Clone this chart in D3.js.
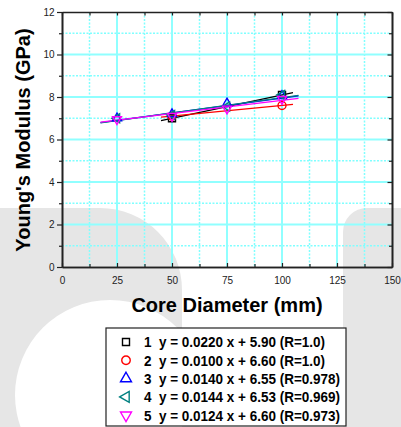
<!DOCTYPE html>
<html>
<head>
<meta charset="utf-8">
<script src="https://cdn.jsdelivr.net/npm/d3@7"></script>
<style>
  html, body { margin: 0; padding: 0; background: #fff; }
  svg { display: block; font-family: Arial, "Liberation Sans", sans-serif; }
</style>
</head>
<body>
<svg id="chart" width="401" height="427"></svg>
<script>
// measured diameters (mm) per series
const x12 = [50, 100];
const x345 = [25, 50, 75, 100];

// Young's modulus (GPa)
const s1 = [7.0, 8.1];
const s2 = [7.1, 7.6];
const s3 = [7.0, 7.2, 7.7, 8.05];
const s4 = [7.0, 7.15, 7.55, 8.1];
const s5 = [6.95, 7.1, 7.45, 7.9];

// linear fits from the legend
const slopes = [0.0220, 0.0100, 0.0140, 0.0144, 0.0124];
const intercepts = [5.90, 6.60, 6.55, 6.53, 6.60];
const rLabels = ['1.0', '1.0', '0.978', '0.969', '0.973'];
const fitFrom = [45, 45, 17.5, 17.5, 17.5];
const fitTo = [105, 105, 107.5, 107.5, 107.5];

const xTicks = [0, 25, 50, 75, 100, 125, 150];
const yTicks = [0, 2, 4, 6, 8, 10, 12];

const colors = ['#000000', '#ff0000', '#0000ff', '#008080', '#ff00ff'];
const shapes = ['square', 'circle', 'up', 'left', 'down'];

const series = [
  { xs: x12, ys: s1 },
  { xs: x12, ys: s2 },
  { xs: x345, ys: s3 },
  { xs: x345, ys: s4 },
  { xs: x345, ys: s5 }
];

const svg = d3.select('#chart');

// plot frame
const L = 62, R = 392, T = 12, B = 267;
const x = d3.scaleLinear().domain([0, 150]).range([L, R]);
const y = d3.scaleLinear().domain([0, 12]).range([B, T]);

// background watermark
const bg = svg.append('g');
const wmPath = d3.path();
wmPath.moveTo(0, 208);
wmPath.lineTo(100, 208);
wmPath.arcTo(182, 208, 182, 290, 82);
wmPath.lineTo(182, 427);
wmPath.lineTo(0, 427);
wmPath.closePath();
// inner hole of the "C"
wmPath.moveTo(205, 395);
wmPath.arc(110, 395, 95, 0, Math.PI * 2, true);
bg.append('path').attr('d', wmPath.toString()).attr('fill', '#e6e6e6').attr('fill-rule', 'evenodd');
bg.append('rect').attr('x', 343).attr('y', 208).attr('width', 90).attr('height', 240)
  .attr('rx', 24).attr('fill', '#e6e6e6');

// grid
const grid = svg.append('g');
const xMinor = d3.range(12.5, 150, 25);
const yMinor = d3.range(1, 12, 2);
grid.selectAll('.vminor').data(xMinor).join('line')
  .attr('x1', d => x(d)).attr('x2', d => x(d)).attr('y1', T).attr('y2', B)
  .attr('stroke', '#80ffff').attr('stroke-width', 1.5).attr('stroke-dasharray', '2,1.5');
grid.selectAll('.hminor').data(yMinor).join('line')
  .attr('y1', d => y(d)).attr('y2', d => y(d)).attr('x1', L).attr('x2', R)
  .attr('stroke', '#80ffff').attr('stroke-width', 1.5).attr('stroke-dasharray', '2,1.5');
grid.selectAll('.vmajor').data(xTicks.slice(1, -1)).join('line')
  .attr('x1', d => x(d)).attr('x2', d => x(d)).attr('y1', T).attr('y2', B)
  .attr('stroke', '#90ffff').attr('stroke-width', 2);
grid.selectAll('.hmajor').data(yTicks.slice(1, -1)).join('line')
  .attr('y1', d => y(d)).attr('y2', d => y(d)).attr('x1', L).attr('x2', R)
  .attr('stroke', '#90ffff').attr('stroke-width', 2);

// axes
const axisColor = '#222';
function styleAxis(g) {
  g.selectAll('.domain').attr('stroke', axisColor).attr('stroke-width', 1.6);
  g.selectAll('.tick line').attr('stroke', axisColor).attr('stroke-width', 1.2);
  g.selectAll('.tick text').attr('fill', '#222').attr('font-size', 10);
}

// left: labels, outward ticks
svg.append('g').attr('transform', `translate(${L},0)`)
  .call(d3.axisLeft(y).tickValues(yMinor).tickSize(3).tickFormat('').tickSizeOuter(0))
  .call(styleAxis);
svg.append('g').attr('transform', `translate(${L},0)`)
  .call(d3.axisLeft(y).tickValues(yTicks).tickSize(5).tickPadding(2.5).tickSizeOuter(0))
  .call(styleAxis);

// bottom: labels, inward ticks
svg.append('g').attr('transform', `translate(0,${B})`)
  .call(d3.axisBottom(x).tickValues(xMinor).tickSize(-3).tickFormat('').tickSizeOuter(0))
  .call(styleAxis);
svg.append('g').attr('transform', `translate(0,${B})`)
  .call(d3.axisBottom(x).tickValues(xTicks).tickSize(-4).tickPadding(10).tickSizeOuter(0))
  .call(styleAxis)
  .call(g => g.selectAll('.tick text').attr('dy', '0.71em').attr('y', 10));

// top and right: no labels, inward ticks
svg.append('g').attr('transform', `translate(0,${T})`)
  .call(d3.axisTop(x).tickValues(d3.range(0, 151, 12.5)).tickSize(-3.5).tickFormat('').tickSizeOuter(0))
  .call(styleAxis);
svg.append('g').attr('transform', `translate(${R},0)`)
  .call(d3.axisRight(y).tickValues(yMinor).tickSize(-3).tickFormat('').tickSizeOuter(0))
  .call(styleAxis);
svg.append('g').attr('transform', `translate(${R},0)`)
  .call(d3.axisRight(y).tickValues(yTicks).tickSize(-4.5).tickFormat('').tickSizeOuter(0))
  .call(styleAxis);

// axis titles
svg.append('text')
  .attr('transform', 'translate(30,140) rotate(-90)')
  .attr('text-anchor', 'middle').attr('font-size', 20).attr('font-weight', 'bold')
  .text("Young's Modulus (GPa)");
svg.append('text')
  .attr('x', 227).attr('y', 312)
  .attr('text-anchor', 'middle').attr('font-size', 20).attr('font-weight', 'bold')
  .text('Core Diameter (mm)');

// marker path generator
function marker(shape, s) {
  const h = s * Math.sqrt(3) / 2;
  switch (shape) {
    case 'square':
      return `M${-s / 2},${-s / 2}h${s}v${s}h${-s}Z`;
    case 'circle':
      return d3.symbol(d3.symbolCircle, Math.PI * (s / 2) * (s / 2))();
    case 'up':
      return `M0,${-h * 2 / 3}L${s / 2},${h / 3}L${-s / 2},${h / 3}Z`;
    case 'down':
      return `M0,${h * 2 / 3}L${s / 2},${-h / 3}L${-s / 2},${-h / 3}Z`;
    case 'left':
      return `M${-h * 2 / 3},0L${h / 3},${-s / 2}L${h / 3},${s / 2}Z`;
  }
}
const plotSize = { square: 7, circle: 8, up: 9, down: 9, left: 9 };

// fit lines
const lines = svg.append('g');
slopes.forEach((m, i) => {
  lines.append('line')
    .attr('x1', x(fitFrom[i])).attr('y1', y(m * fitFrom[i] + intercepts[i]))
    .attr('x2', x(fitTo[i])).attr('y2', y(m * fitTo[i] + intercepts[i]))
    .attr('stroke', colors[i]).attr('stroke-width', 1.3);
});

// data points
const pts = svg.append('g');
series.forEach((s, i) => {
  pts.selectAll(null).data(s.ys).join('path')
    .attr('transform', (d, j) => `translate(${x(s.xs[j])},${y(d)})`)
    .attr('d', marker(shapes[i], plotSize[shapes[i]]))
    .attr('fill', 'none').attr('stroke', colors[i]).attr('stroke-width', 1.4);
});

// legend
const lg = svg.append('g');
lg.append('rect').attr('x', 106).attr('y', 328).attr('width', 240).attr('height', 98)
  .attr('fill', '#fff').attr('stroke', '#222').attr('stroke-width', 1.2);
const legendSize = { square: 7, circle: 8.5, up: 11, down: 11, left: 11 };
slopes.forEach((m, i) => {
  const base = 347.3 + i * 18.3;
  lg.append('path')
    .attr('transform', `translate(126,${base - 5.3})`)
    .attr('d', marker(shapes[i], legendSize[shapes[i]]))
    .attr('fill', 'none').attr('stroke', colors[i]).attr('stroke-width', 1.4);
  lg.append('text')
    .attr('transform', `translate(144,${base}) scale(0.9,1)`)
    .attr('font-size', 15).attr('font-weight', 'bold')
    .text(i + 1);
  lg.append('text')
    .attr('transform', `translate(159,${base}) scale(0.9,1)`)
    .attr('font-size', 15).attr('font-weight', 'bold')
    .text(`y = ${m.toFixed(4)} x + ${intercepts[i].toFixed(2)} (R=${rLabels[i]})`);
});
</script>
</body>
</html>
